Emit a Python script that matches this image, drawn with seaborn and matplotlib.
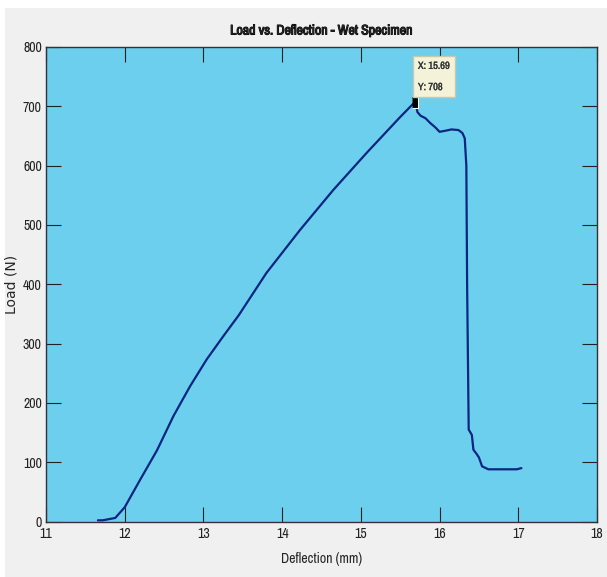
import matplotlib
matplotlib.use("Agg")
import matplotlib.pyplot as plt
import matplotlib.patheffects as pe
from matplotlib.patches import Rectangle
from matplotlib import font_manager
import numpy as np
import pandas as pd
import seaborn as sns

# Load-deflection readings
deflection = [11.66, 11.72, 11.80, 11.88, 12.00, 12.19, 12.41, 12.62, 12.83,
              13.04, 13.25, 13.45, 13.80, 14.23, 14.65, 15.07, 15.50, 15.67,
              15.69, 15.72, 15.76, 15.82, 15.88, 15.95, 16.00, 16.08, 16.15,
              16.24, 16.29, 16.32, 16.34, 16.35, 16.37, 16.41, 16.43, 16.47,
              16.50, 16.54, 16.62, 16.80, 16.98, 17.04]
load = [2, 2, 4, 6, 24, 69, 120, 178, 228,
        273, 312, 348, 419, 492, 559, 621, 682, 705,
        708, 690, 684, 680, 672, 664, 657, 659, 661,
        660, 655, 646, 600, 400, 155, 146, 121, 114,
        108, 93, 88, 88, 88, 90]

peak_x, peak_y = 15.69, 708
x_ticks = [11, 12, 13, 14, 15, 16, 17, 18]
y_ticks = [0, 100, 200, 300, 400, 500, 600, 700, 800]

df = pd.DataFrame({"Deflection (mm)": deflection, "Load (N)": load})

# MATLAB screenshot uses a narrow face; pick a condensed one if there is one
names = sorted({f.name for f in font_manager.fontManager.ttflist})
narrow = [n for n in names if "Condensed" in n or "Narrow" in n]

sns.set_style("ticks")
plt.rcParams["font.family"] = narrow[:1] + ["Liberation Sans", "DejaVu Sans"]

fig = plt.figure(figsize=(6.07, 5.77), dpi=100, facecolor="#f0f0f0")
# thin white margin at the top and left, like the screenshot
fig.patches.append(Rectangle((0, 1 - 8 / 577), 1, 8 / 577, transform=fig.transFigure,
                             facecolor="white", edgecolor="none"))
fig.patches.append(Rectangle((0, 0), 5 / 607, 1, transform=fig.transFigure,
                             facecolor="white", edgecolor="none"))
ax = fig.add_axes([46 / 607, 1 - 521.5 / 577, 551 / 607, 474.5 / 577])
ax.set_zorder(2)
ax.set_facecolor("#6ccfee")

sns.lineplot(data=df, x="Deflection (mm)", y="Load (N)", sort=False, estimator=None,
             color="#0b2680", linewidth=1.6, ax=ax)

# data tip at the peak
tip = [(-0.5, -1), (0.5, -1), (0.5, 1), (-0.5, 1)]
ax.plot(peak_x, peak_y, marker=tip, markersize=9, markerfacecolor="black",
        markeredgecolor="white", markeredgewidth=0.8, zorder=5)
ax.text(peak_x + 0.035, peak_y + 16, f"X: {peak_x}\nY: {peak_y}", fontsize=7.5,
        ha="left", va="bottom", linespacing=2.4, color="#333333",
        path_effects=[pe.withStroke(linewidth=0.2, foreground="#333333")],
        bbox=dict(boxstyle="square,pad=0.5", facecolor="#f4f2d9", edgecolor="#c8c8b0"),
        zorder=6, clip_on=False)

ax.set_xlim(11, 18)
ax.set_ylim(0, 800)
ax.set_xticks(x_ticks)
ax.set_yticks(y_ticks)
ax.tick_params(direction="in", length=11, width=0.8, labelsize=10, colors="#222222",
               top=True, right=True)
ax.tick_params(axis="x", pad=4)
ax.tick_params(axis="y", pad=3)
for s in ax.spines.values():
    s.set_color("#333333")
    s.set_linewidth(1)

title = ax.set_title("Load vs. Deflection - Wet Specimen", fontsize=10, fontweight="bold", pad=9)
title.set_path_effects([pe.withStroke(linewidth=0.7, foreground="black")])
ax.set_xlabel("Deflection (mm)", fontsize=10, labelpad=8)
ax.set_ylabel("Load (N)", fontsize=10, family="DejaVu Sans", labelpad=3)

fig.savefig("out.png", dpi=100, facecolor=fig.get_facecolor())
